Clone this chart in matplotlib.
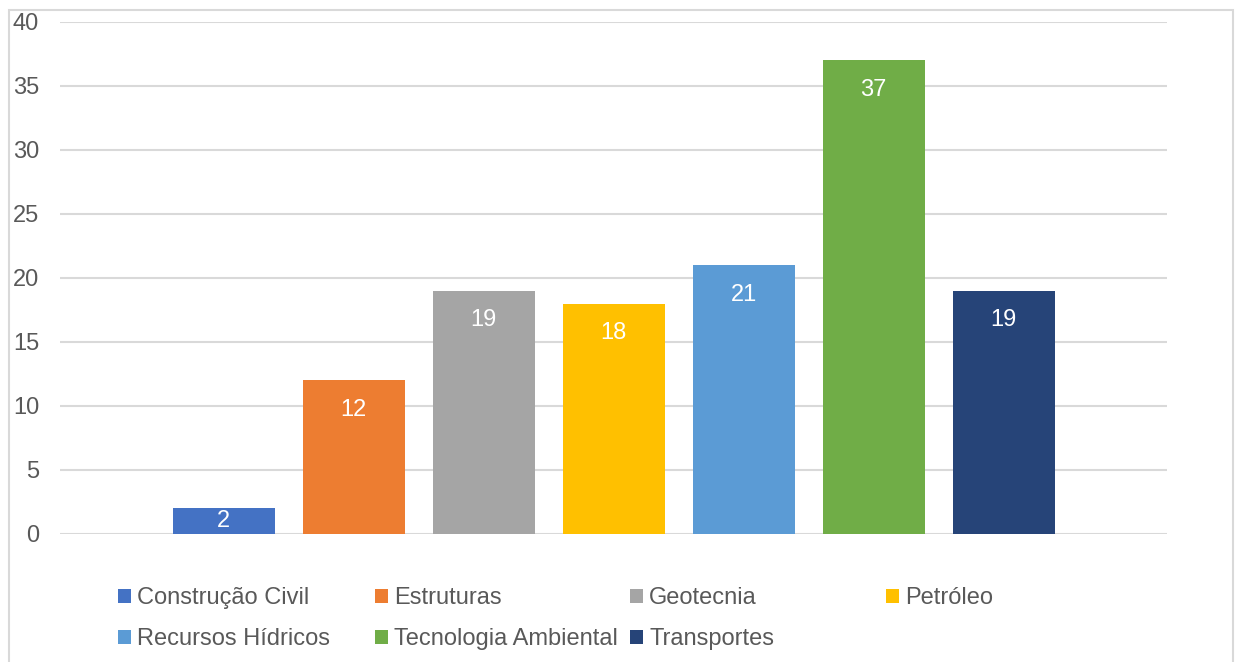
import matplotlib
matplotlib.use("Agg")
import matplotlib.pyplot as plt
from matplotlib.patches import Rectangle

plt.rcParams['font.family'] = ['Liberation Sans', 'DejaVu Sans']

categories = ["Construção Civil", "Estruturas", "Geotecnia", "Petróleo",
              "Recursos Hídricos", "Tecnologia Ambiental", "Transportes"]
values = [2, 12, 19, 18, 21, 37, 19]
colors = ["#4472C4", "#ED7D31", "#A5A5A5", "#FFC000",
          "#5B9BD5", "#70AD47", "#264478"]
yticks = [0, 5, 10, 15, 20, 25, 30, 35, 40]

W, H = 1235, 662
fig = plt.figure(figsize=(W / 100, H / 100), dpi=100)
fig.patch.set_facecolor("white")

# outer chart frame
fig.add_artist(Rectangle((9 / W, -0.05), (1233 - 9) / W, 1.05 - 10 / H,
                         transform=fig.transFigure, fill=False,
                         edgecolor="#D9D9D9", linewidth=1.5))

left, right = 60 / W, 1167 / W
bottom, top = 1 - 534 / H, 1 - 22 / H
ax = fig.add_axes([left, bottom, right - left, top - bottom])

step_px = 130
half_units = (1167 - 60) / step_px / 2
center = (len(values) - 1) / 2
ax.set_xlim(center - half_units, center + half_units)
ax.set_ylim(0, 40)

ax.set_yticks(yticks)
ax.set_yticklabels([str(t) for t in yticks])
ax.yaxis.grid(True, color="#D9D9D9", linewidth=1.5)
ax.set_axisbelow(True)
ax.set_xticks([])
for s in ax.spines.values():
    s.set_visible(False)
ax.tick_params(axis="y", length=0, pad=15, labelsize=17, labelcolor="#595959")

bars = []
for i, (cat, v, c) in enumerate(zip(categories, values, colors)):
    b = ax.bar(i, v, width=102 / step_px, color=c, label=cat, zorder=2)
    bars.append(b[0])
    ypos = max(v - 2.3, v / 2)
    ax.text(i, ypos, str(v), ha="center", va="center", color="white",
            fontsize=17, zorder=3)

# legend entries laid out on a fixed grid
col_x = [118, 375, 630, 886]
row_y = [598, 639]
for i, (b, cat) in enumerate(zip(bars, categories)):
    r, cidx = divmod(i, 4)
    fig.legend(handles=[b], labels=[cat], loc="center left",
               bbox_to_anchor=(col_x[cidx] / W, 1 - row_y[r] / H),
               frameon=False, fontsize=17, handlelength=0.55,
               handleheight=0.55, handletextpad=0.26, borderpad=0,
               borderaxespad=0, labelcolor="#595959")

fig.savefig("out.png", dpi=100, facecolor="white")
